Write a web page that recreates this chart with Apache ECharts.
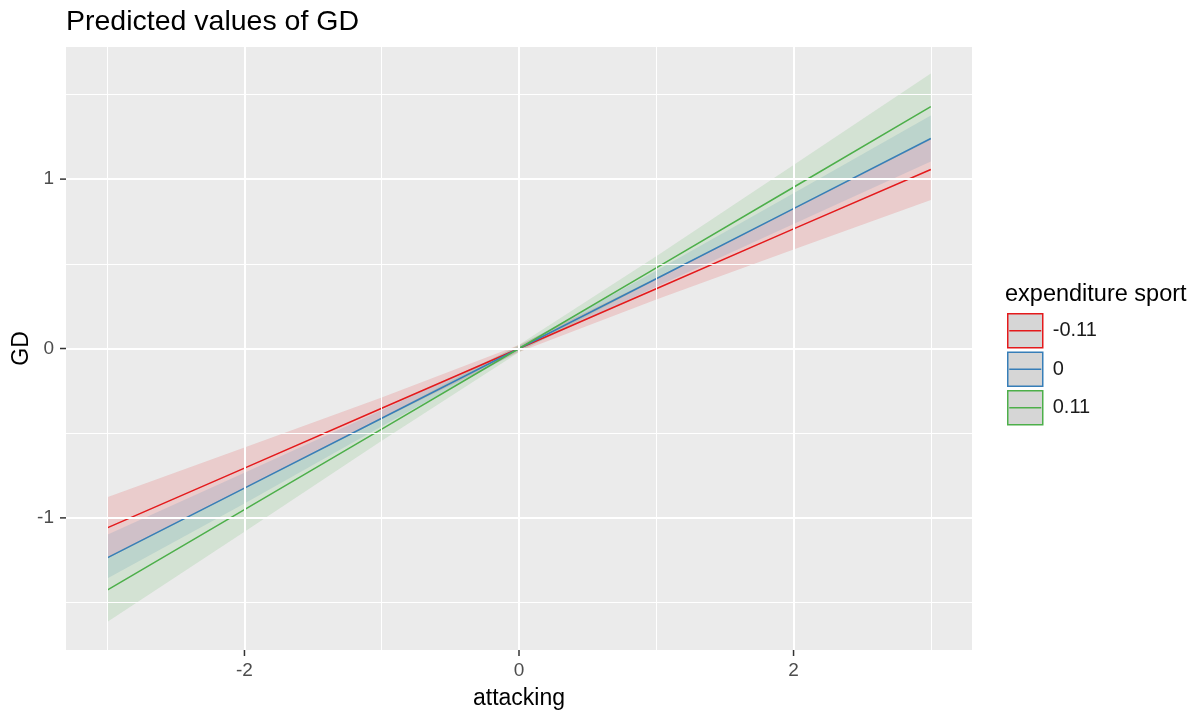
<!DOCTYPE html>
<html><head><meta charset="utf-8">
<script src="https://cdn.jsdelivr.net/npm/echarts@6/dist/echarts.min.js"></script>
<style>html,body{margin:0;padding:0;background:#fff}#c{width:1195px;height:713px}</style>
</head><body><div id="c"></div>
<script>
// Data
const xs = [-3, -2, -1, 0, 1, 2, 3];
const groupNames = ['-0.11', '0', '0.11'];
const colors = ['#E41A1C', '#377EB8', '#4DAF4A'];
const predRed   = [-1.059, -0.706, -0.353, 0.000, 0.353, 0.706, 1.057];
const lowRed    = [-1.240, -0.827, -0.416, -0.020, 0.290, 0.585, 0.876];
const highRed   = [-0.878, -0.585, -0.290, 0.020, 0.416, 0.827, 1.238];
const predBlue  = [-1.236, -0.824, -0.412, 0.000, 0.412, 0.826, 1.240];
const lowBlue   = [-1.358, -0.915, -0.459, -0.015, 0.365, 0.735, 1.104];
const highBlue  = [-1.100, -0.733, -0.365, 0.015, 0.459, 0.917, 1.376];
const predGreen = [-1.427, -0.951, -0.476, 0.000, 0.476, 0.952, 1.428];
const lowGreen  = [-1.614, -1.082, -0.544, -0.022, 0.408, 0.821, 1.232];
const highGreen = [-1.231, -0.820, -0.408, 0.022, 0.544, 1.083, 1.624];
const xMajor = [-2, 0, 2];
const xMinor = [-3, -1, 1, 3];
const yMajor = [-1, 0, 1];
const yMinor = [-1.5, -0.5, 0.5, 1.5];
const xRange = [-3.3, 3.3];
const yRange = [-1.78, 1.78];

const preds = [predRed, predBlue, predGreen];
const lows = [lowRed, lowBlue, lowGreen];
const highs = [highRed, highBlue, highGreen];
const fills = ['rgba(228,26,28,0.15)', 'rgba(55,126,184,0.15)', 'rgba(77,175,74,0.15)'];

const font = 'Liberation Sans, Arial, sans-serif';
const chart = echarts.init(document.getElementById('c'));

function ribbon(i) {
  return {
    type: 'custom', name: 'band' + i, z: 2, silent: true,
    data: xs.map((x, k) => [x, lows[i][k], highs[i][k]]),
    encode: { x: 0, y: [1, 2] },
    renderItem: function (params, api) {
      if (params.dataIndex !== 0) return null;
      const pts = [];
      for (let k = 0; k < xs.length; k++) pts.push(api.coord([xs[k], highs[i][k]]));
      for (let k = xs.length - 1; k >= 0; k--) pts.push(api.coord([xs[k], lows[i][k]]));
      return { type: 'polygon', shape: { points: pts }, style: { fill: fills[i] } };
    }
  };
}
function gridLines() {
  const d = [];
  xMinor.forEach(v => d.push({ xAxis: v, lineStyle: { width: 1 } }));
  yMinor.forEach(v => d.push({ yAxis: v, lineStyle: { width: 1 } }));
  xMajor.forEach(v => d.push({ xAxis: v, lineStyle: { width: 2 } }));
  yMajor.forEach(v => d.push({ yAxis: v, lineStyle: { width: 2 } }));
  return {
    type: 'line', name: 'grid', data: [], z: 1, silent: true,
    markLine: { silent: true, symbol: 'none', label: { show: false }, animation: false,
      lineStyle: { color: '#FFFFFF', type: 'solid' }, data: d }
  };
}
// axis tick marks drawn through the axes' scales, just outside the panel
function tickSeries() {
  const data = xMajor.map(v => [v, yRange[0], 0]).concat(yMajor.map(v => [xRange[0], v, 1]));
  return {
    type: 'custom', name: 'ticks', z: 4, silent: true, clip: false,
    data: data, encode: { x: 0, y: 1 },
    renderItem: function (params, api) {
      const p = api.coord([api.value(0), api.value(1)]);
      const vertical = api.value(2) === 0;
      return { type: 'line',
        shape: vertical ? { x1: p[0], y1: p[1], x2: p[0], y2: p[1] + 6 } : { x1: p[0] - 6, y1: p[1], x2: p[0], y2: p[1] },
        style: { stroke: '#333333', lineWidth: 1.5 } };
    }
  };
}
const series = [gridLines(), ribbon(0), ribbon(1), ribbon(2), tickSeries()];
for (let i = 0; i < 3; i++) {
  series.push({
    type: 'line', name: groupNames[i], z: 3, showSymbol: false, symbol: 'none',
    data: xs.map((x, k) => [x, preds[i][k]]),
    lineStyle: { color: colors[i], width: 1.5 }, itemStyle: { color: colors[i] }
  });
}

chart.setOption({
  animation: false,
  backgroundColor: '#FFFFFF',
  title: [
    { text: 'Predicted values of GD', left: 66, top: 8, padding: 0,
      textStyle: { fontFamily: font, fontSize: 28.5, fontWeight: 'normal', color: '#000' } },
    { text: 'expenditure sport', left: 1005, top: 283, padding: 0,
      textStyle: { fontFamily: font, fontSize: 23.5, fontWeight: 'normal', color: '#000' } }
  ],
  grid: { left: 66, right: 223, top: 47, bottom: 63, show: true, backgroundColor: '#EBEBEB', borderWidth: 0,
    outerBoundsMode: 'none', containLabel: false },
  xAxis: {
    type: 'value', min: xRange[0], max: xRange[1],
    name: 'attacking', nameLocation: 'middle', nameGap: 37, nameMoveOverlap: false,
    nameTextStyle: { fontFamily: font, fontSize: 23, color: '#000' },
    axisLine: { show: false },
    axisTick: { show: false },
    axisLabel: { customValues: xMajor, margin: 11, fontFamily: font, fontSize: 19, color: '#4D4D4D' },
    splitLine: { show: false }
  },
  yAxis: {
    type: 'value', min: yRange[0], max: yRange[1],
    name: 'GD', nameLocation: 'middle', nameGap: 33, nameRotate: 90, nameMoveOverlap: false,
    nameTextStyle: { fontFamily: font, fontSize: 23, color: '#000' },
    axisLine: { show: false },
    axisTick: { show: false },
    axisLabel: { customValues: yMajor, margin: 12, fontFamily: font, fontSize: 19, color: '#4D4D4D',
      formatter: v => String(v) },
    splitLine: { show: false }
  },
  legend: {
    orient: 'vertical', left: 1007, top: 313, itemGap: 3, padding: 0,
    itemWidth: 35, itemHeight: 34,
    icon: 'path://M0,0L35,0L35,34L0,34Z M1.5,17L33.5,17',
    textStyle: { fontFamily: font, fontSize: 20, color: '#1A1A1A', padding: [0, 0, 0, 5] },
    data: groupNames.map((n, i) => ({ name: n, itemStyle: { color: '#D6D6D6', borderColor: colors[i], borderWidth: 1.5 } }))
  },
  series: series
});
</script></body></html>
